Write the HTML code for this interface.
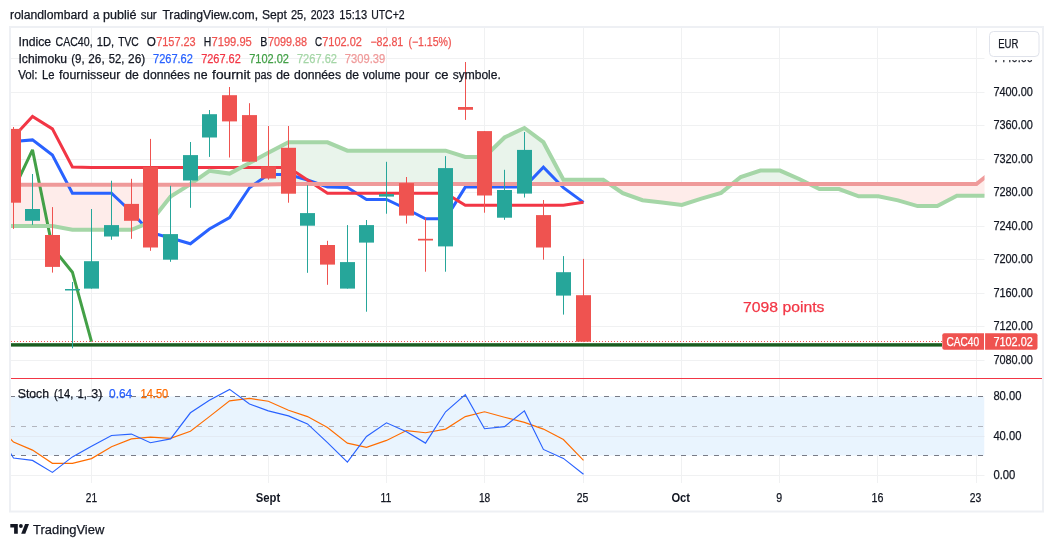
<!DOCTYPE html><html><head><meta charset="utf-8"><style>html,body{margin:0;padding:0;background:#fff;}body{width:1053px;height:547px;overflow:hidden;}svg{display:block;will-change:transform;}text{font-family:"Liberation Sans", sans-serif;stroke-width:0.25px;}</style></head><body>
<svg width="1053" height="547" viewBox="0 0 1053 547">
<defs><clipPath id="cm"><rect x="10" y="28" width="974.5" height="350"/></clipPath>
<clipPath id="cs"><rect x="10" y="379" width="974.5" height="104"/></clipPath>
<clipPath id="cab"><polygon points="0.0,0.0 0.0,184.8 250.0,184.8 290.0,184.1 976.4,184.1 996.0,168.4 1100.0,168.4 1100.0,0.0"/></clipPath>
<clipPath id="cbe"><polygon points="0.0,600.0 0.0,184.8 250.0,184.8 290.0,184.1 976.4,184.1 996.0,168.4 1100.0,168.4 1100.0,600.0"/></clipPath>
</defs>
<text x="10.1" y="18.6" font-size="12" fill="#131722" stroke="#131722" textLength="78.0" lengthAdjust="spacingAndGlyphs">rolandlombard</text>
<text x="93.0" y="18.6" font-size="12" fill="#131722" stroke="#131722" textLength="6.4" lengthAdjust="spacingAndGlyphs">a</text>
<text x="103.1" y="18.6" font-size="12" fill="#131722" stroke="#131722" textLength="33.5" lengthAdjust="spacingAndGlyphs">publié</text>
<text x="140.7" y="18.6" font-size="12" fill="#131722" stroke="#131722" textLength="16.0" lengthAdjust="spacingAndGlyphs">sur</text>
<text x="162.4" y="18.6" font-size="12" fill="#131722" stroke="#131722" textLength="95.7" lengthAdjust="spacingAndGlyphs">TradingView.com,</text>
<text x="261.9" y="18.6" font-size="12" fill="#131722" stroke="#131722" textLength="24.9" lengthAdjust="spacingAndGlyphs">Sept</text>
<text x="290.9" y="18.6" font-size="12" fill="#131722" stroke="#131722" textLength="15.4" lengthAdjust="spacingAndGlyphs">25,</text>
<text x="310.7" y="18.6" font-size="12" fill="#131722" stroke="#131722" textLength="23.6" lengthAdjust="spacingAndGlyphs">2023</text>
<text x="339.3" y="18.6" font-size="12" fill="#131722" stroke="#131722" textLength="27.8" lengthAdjust="spacingAndGlyphs">15:13</text>
<text x="371.2" y="18.6" font-size="12" fill="#131722" stroke="#131722" textLength="33.4" lengthAdjust="spacingAndGlyphs">UTC+2</text>
<g stroke="#F0F1F2" stroke-width="1">
<line x1="11" x2="984.5" y1="58.5" y2="58.5"/>
<line x1="11" x2="984.5" y1="92.5" y2="92.5"/>
<line x1="11" x2="984.5" y1="125.5" y2="125.5"/>
<line x1="11" x2="984.5" y1="159.5" y2="159.5"/>
<line x1="11" x2="984.5" y1="192.5" y2="192.5"/>
<line x1="11" x2="984.5" y1="226.5" y2="226.5"/>
<line x1="11" x2="984.5" y1="259.5" y2="259.5"/>
<line x1="11" x2="984.5" y1="293.5" y2="293.5"/>
<line x1="11" x2="984.5" y1="326.5" y2="326.5"/>
<line x1="11" x2="984.5" y1="360.5" y2="360.5"/>
<line x1="91.5" x2="91.5" y1="28" y2="483"/>
<line x1="268.5" x2="268.5" y1="28" y2="483"/>
<line x1="386.5" x2="386.5" y1="28" y2="483"/>
<line x1="484.5" x2="484.5" y1="28" y2="483"/>
<line x1="583.5" x2="583.5" y1="28" y2="483"/>
<line x1="681.5" x2="681.5" y1="28" y2="483"/>
<line x1="779.5" x2="779.5" y1="28" y2="483"/>
<line x1="877.5" x2="877.5" y1="28" y2="483"/>
<line x1="976.5" x2="976.5" y1="28" y2="483"/>
<line x1="11" x2="984.5" y1="436.5" y2="436.5"/>
<line x1="11" x2="984.5" y1="475.5" y2="475.5"/>
</g>
<g clip-path="url(#cm)">
<polygon points="-6.0,226.0 13.5,226.0 32.5,226.0 52.4,226.0 72.4,229.8 91.5,229.8 111.5,229.8 131.4,229.8 150.4,222.0 170.6,196.6 190.4,184.2 209.4,170.8 229.6,173.6 249.5,163.0 268.3,152.8 288.5,142.3 307.5,142.3 327.5,142.3 347.4,150.7 366.5,150.7 386.5,150.7 406.5,150.7 425.5,150.7 445.6,150.7 465.3,157.0 484.5,157.0 504.5,137.5 524.4,128.0 543.4,142.2 563.4,179.8 583.5,179.8 603.2,179.8 622.8,193.1 642.5,200.2 662.1,202.6 681.8,205.0 701.4,198.7 721.1,192.9 740.7,177.0 760.4,170.6 780.0,170.6 799.7,179.2 819.4,189.0 839.0,189.0 858.7,196.3 878.3,196.3 898.0,200.4 917.6,206.1 937.3,206.1 956.9,195.8 976.6,195.8 996.3,195.8 996.3,168.4 976.6,183.9 956.9,184.1 937.3,184.1 917.6,184.1 898.0,184.1 878.3,184.1 858.7,184.1 839.0,184.1 819.4,184.1 799.7,184.1 780.0,184.1 760.4,184.1 740.7,184.1 721.1,184.1 701.4,184.1 681.8,184.1 662.1,184.1 642.5,184.1 622.8,184.1 603.2,184.1 583.5,184.1 563.4,184.1 543.4,184.1 524.4,184.1 504.5,184.1 484.5,184.1 465.3,184.1 445.6,184.1 425.5,184.1 406.5,184.1 386.5,184.1 366.5,184.1 347.4,184.1 327.5,184.1 307.5,184.1 288.5,184.1 268.3,184.5 249.5,184.8 229.6,184.8 209.4,184.8 190.4,184.8 170.6,184.8 150.4,184.8 131.4,184.8 111.5,184.8 91.5,184.8 72.4,184.8 52.4,184.8 32.5,184.8 13.5,184.8 -6.0,168.4" fill="#E9F4EB" clip-path="url(#cab)"/>
<polygon points="-6.0,226.0 13.5,226.0 32.5,226.0 52.4,226.0 72.4,229.8 91.5,229.8 111.5,229.8 131.4,229.8 150.4,222.0 170.6,196.6 190.4,184.2 209.4,170.8 229.6,173.6 249.5,163.0 268.3,152.8 288.5,142.3 307.5,142.3 327.5,142.3 347.4,150.7 366.5,150.7 386.5,150.7 406.5,150.7 425.5,150.7 445.6,150.7 465.3,157.0 484.5,157.0 504.5,137.5 524.4,128.0 543.4,142.2 563.4,179.8 583.5,179.8 603.2,179.8 622.8,193.1 642.5,200.2 662.1,202.6 681.8,205.0 701.4,198.7 721.1,192.9 740.7,177.0 760.4,170.6 780.0,170.6 799.7,179.2 819.4,189.0 839.0,189.0 858.7,196.3 878.3,196.3 898.0,200.4 917.6,206.1 937.3,206.1 956.9,195.8 976.6,195.8 996.3,195.8 996.3,168.4 976.6,183.9 956.9,184.1 937.3,184.1 917.6,184.1 898.0,184.1 878.3,184.1 858.7,184.1 839.0,184.1 819.4,184.1 799.7,184.1 780.0,184.1 760.4,184.1 740.7,184.1 721.1,184.1 701.4,184.1 681.8,184.1 662.1,184.1 642.5,184.1 622.8,184.1 603.2,184.1 583.5,184.1 563.4,184.1 543.4,184.1 524.4,184.1 504.5,184.1 484.5,184.1 465.3,184.1 445.6,184.1 425.5,184.1 406.5,184.1 386.5,184.1 366.5,184.1 347.4,184.1 327.5,184.1 307.5,184.1 288.5,184.1 268.3,184.5 249.5,184.8 229.6,184.8 209.4,184.8 190.4,184.8 170.6,184.8 150.4,184.8 131.4,184.8 111.5,184.8 91.5,184.8 72.4,184.8 52.4,184.8 32.5,184.8 13.5,184.8 -6.0,168.4" fill="#FEECEA" clip-path="url(#cbe)"/>
<polyline points="5.0,141.7 13.5,141.5 32.5,139.9 52.4,155.0 72.4,193.2 91.5,193.2 111.5,193.2 131.4,212.0 150.4,232.5 170.6,238.0 190.4,243.8 209.4,229.0 229.6,217.5 249.5,187.7 268.3,174.5 288.5,174.5 307.5,180.0 327.5,187.0 347.4,187.5 366.5,199.4 386.5,199.4 406.5,209.0 425.5,218.8 445.6,218.8 465.3,187.1 484.5,187.1 504.5,187.1 524.4,187.1 543.4,167.2 563.4,187.7 583.5,202.4" fill="none" stroke="#2962FF" stroke-width="3" stroke-linejoin="miter" stroke-miterlimit="3"/>
<polyline points="5.0,146.0 13.5,137.0 32.5,116.5 52.4,128.9 72.4,167.0 91.5,167.4 111.5,167.4 131.4,167.4 150.4,167.4 170.6,167.4 190.4,167.4 209.4,167.4 229.6,167.4 249.5,167.4 268.3,167.4 288.5,167.4 307.5,180.0 327.5,193.3 347.4,193.3 366.5,193.3 386.5,193.3 406.5,193.3 425.5,193.3 445.6,193.3 465.3,205.3 484.5,205.3 504.5,205.3 524.4,205.3 543.4,205.3 563.4,205.3 583.5,202.3" fill="none" stroke="#F23645" stroke-width="3" stroke-linejoin="miter" stroke-miterlimit="3"/>
<polyline points="-6.0,195.5 13.5,190.0 32.5,149.9 52.4,247.5 72.4,272.2 91.5,341.7" fill="none" stroke="#43A047" stroke-width="3" stroke-linejoin="miter" stroke-miterlimit="3"/>
<polyline points="-6.0,226.0 13.5,226.0 32.5,226.0 52.4,226.0 72.4,229.8 91.5,229.8 111.5,229.8 131.4,229.8 150.4,222.0 170.6,196.6 190.4,184.2 209.4,170.8 229.6,173.6 249.5,163.0 268.3,152.8 288.5,142.3 307.5,142.3 327.5,142.3 347.4,150.7 366.5,150.7 386.5,150.7 406.5,150.7 425.5,150.7 445.6,150.7 465.3,157.0 484.5,157.0 504.5,137.5 524.4,128.0 543.4,142.2 563.4,179.8 583.5,179.8 603.2,179.8 622.8,193.1 642.5,200.2 662.1,202.6 681.8,205.0 701.4,198.7 721.1,192.9 740.7,177.0 760.4,170.6 780.0,170.6 799.7,179.2 819.4,189.0 839.0,189.0 858.7,196.3 878.3,196.3 898.0,200.4 917.6,206.1 937.3,206.1 956.9,195.8 976.6,195.8 996.3,195.8" fill="none" stroke="#A5D6A7" stroke-width="4" stroke-linejoin="miter" stroke-miterlimit="3"/>
<polyline points="0.0,184.8 250.0,184.8 290.0,184.1 976.4,184.1 996.0,168.4" fill="none" stroke="#EF9A9A" stroke-width="4"/>
<line x1="11" x2="942" y1="341.5" y2="341.5" stroke="#EF5350" stroke-width="1" stroke-dasharray="1 2"/>
<rect x="11" y="343.2" width="931" height="3.4" fill="#1B5E20"/>
<rect x="13" y="127.0" width="1" height="101.9" fill="#EF5350"/>
<rect x="6" y="128.9" width="15" height="73.8" fill="#EF5350"/>
<rect x="32" y="174.0" width="1" height="50.8" fill="#26A69A"/>
<rect x="25" y="209.0" width="15" height="11.8" fill="#26A69A"/>
<rect x="52" y="207.1" width="1" height="65.5" fill="#EF5350"/>
<rect x="45" y="235.0" width="15" height="31.9" fill="#EF5350"/>
<rect x="72" y="282.0" width="1" height="66.3" fill="#26A69A"/>
<rect x="65" y="289.0" width="15" height="1.5" fill="#26A69A"/>
<rect x="91" y="209.0" width="1" height="79.6" fill="#26A69A"/>
<rect x="84" y="261.2" width="15" height="27.4" fill="#26A69A"/>
<rect x="111" y="180.7" width="1" height="59.1" fill="#26A69A"/>
<rect x="104" y="225.1" width="15" height="11.4" fill="#26A69A"/>
<rect x="131" y="178.8" width="1" height="60.0" fill="#EF5350"/>
<rect x="124" y="203.9" width="15" height="16.9" fill="#EF5350"/>
<rect x="150" y="138.9" width="1" height="111.9" fill="#EF5350"/>
<rect x="143" y="166.9" width="15" height="80.6" fill="#EF5350"/>
<rect x="170" y="185.8" width="1" height="76.0" fill="#26A69A"/>
<rect x="163" y="234.1" width="15" height="25.6" fill="#26A69A"/>
<rect x="190" y="142.0" width="1" height="65.8" fill="#26A69A"/>
<rect x="183" y="155.1" width="15" height="25.4" fill="#26A69A"/>
<rect x="209" y="110.0" width="1" height="46.9" fill="#26A69A"/>
<rect x="202" y="114.2" width="15" height="23.3" fill="#26A69A"/>
<rect x="229" y="87.0" width="1" height="70.5" fill="#EF5350"/>
<rect x="222" y="95.2" width="15" height="26.2" fill="#EF5350"/>
<rect x="249" y="103.2" width="1" height="58.5" fill="#EF5350"/>
<rect x="242" y="115.1" width="15" height="46.6" fill="#EF5350"/>
<rect x="268" y="126.0" width="1" height="53.7" fill="#EF5350"/>
<rect x="261" y="166.4" width="15" height="12.1" fill="#EF5350"/>
<rect x="288" y="126.0" width="1" height="76.7" fill="#EF5350"/>
<rect x="281" y="147.8" width="15" height="45.9" fill="#EF5350"/>
<rect x="307" y="185.2" width="1" height="87.6" fill="#26A69A"/>
<rect x="300" y="213.1" width="15" height="12.6" fill="#26A69A"/>
<rect x="327" y="240.8" width="1" height="44.0" fill="#EF5350"/>
<rect x="320" y="245.0" width="15" height="19.6" fill="#EF5350"/>
<rect x="347" y="225.1" width="1" height="63.5" fill="#26A69A"/>
<rect x="340" y="262.1" width="15" height="26.5" fill="#26A69A"/>
<rect x="366" y="220.0" width="1" height="91.7" fill="#26A69A"/>
<rect x="359" y="225.1" width="15" height="17.5" fill="#26A69A"/>
<rect x="386" y="161.8" width="1" height="51.9" fill="#26A69A"/>
<rect x="379" y="194.1" width="15" height="2.5" fill="#26A69A"/>
<rect x="406" y="177.0" width="1" height="46.6" fill="#EF5350"/>
<rect x="399" y="183.1" width="15" height="32.5" fill="#EF5350"/>
<rect x="425" y="217.5" width="1" height="54.2" fill="#EF5350"/>
<rect x="418" y="238.8" width="15" height="1.7" fill="#EF5350"/>
<rect x="445" y="156.1" width="1" height="115.6" fill="#26A69A"/>
<rect x="438" y="168.1" width="15" height="78.3" fill="#26A69A"/>
<rect x="465" y="62.0" width="1" height="57.9" fill="#EF5350"/>
<rect x="458" y="107.0" width="15" height="2.8" fill="#EF5350"/>
<rect x="484" y="131.1" width="1" height="81.6" fill="#EF5350"/>
<rect x="477" y="131.1" width="15" height="64.4" fill="#EF5350"/>
<rect x="504" y="169.8" width="1" height="50.0" fill="#26A69A"/>
<rect x="497" y="190.0" width="15" height="27.7" fill="#26A69A"/>
<rect x="524" y="132.0" width="1" height="65.5" fill="#26A69A"/>
<rect x="517" y="149.9" width="15" height="43.7" fill="#26A69A"/>
<rect x="543" y="200.0" width="1" height="59.7" fill="#EF5350"/>
<rect x="536" y="215.1" width="15" height="32.4" fill="#EF5350"/>
<rect x="563" y="256.1" width="1" height="58.5" fill="#26A69A"/>
<rect x="556" y="272.2" width="15" height="23.4" fill="#26A69A"/>
<rect x="583" y="258.9" width="1" height="82.8" fill="#EF5350"/>
<rect x="576" y="295.2" width="15" height="46.5" fill="#EF5350"/>
</g>
<text x="743.1" y="311.9" font-size="15" fill="#F23645" stroke="#F23645" textLength="81.4" lengthAdjust="spacingAndGlyphs">7098 points</text>
<text x="18.5" y="45.9" font-size="12" fill="#131722" stroke="#131722" textLength="32.5" lengthAdjust="spacingAndGlyphs">Indice</text>
<text x="55.5" y="45.9" font-size="12" fill="#131722" stroke="#131722" textLength="37.1" lengthAdjust="spacingAndGlyphs">CAC40,</text>
<text x="96.7" y="45.9" font-size="12" fill="#131722" stroke="#131722" textLength="17.4" lengthAdjust="spacingAndGlyphs">1D,</text>
<text x="118.2" y="45.9" font-size="12" fill="#131722" stroke="#131722" textLength="20.6" lengthAdjust="spacingAndGlyphs">TVC</text>
<text x="146.7" y="45.9" font-size="12" fill="#131722" stroke="#131722" textLength="9.1" lengthAdjust="spacingAndGlyphs">O</text>
<text x="203.8" y="45.9" font-size="12" fill="#131722" stroke="#131722" textLength="7.5" lengthAdjust="spacingAndGlyphs">H</text>
<text x="260.2" y="45.9" font-size="12" fill="#131722" stroke="#131722" textLength="7.1" lengthAdjust="spacingAndGlyphs">B</text>
<text x="314.9" y="45.9" font-size="12" fill="#131722" stroke="#131722" textLength="7.1" lengthAdjust="spacingAndGlyphs">C</text>
<text x="156.2" y="45.9" font-size="12" fill="#EF5350" stroke="#EF5350" textLength="39.5" lengthAdjust="spacingAndGlyphs">7157.23</text>
<text x="211.5" y="45.9" font-size="12" fill="#EF5350" stroke="#EF5350" textLength="40.3" lengthAdjust="spacingAndGlyphs">7199.95</text>
<text x="267.9" y="45.9" font-size="12" fill="#EF5350" stroke="#EF5350" textLength="39.1" lengthAdjust="spacingAndGlyphs">7099.88</text>
<text x="322.2" y="45.9" font-size="12" fill="#EF5350" stroke="#EF5350" textLength="39.7" lengthAdjust="spacingAndGlyphs">7102.02</text>
<text x="370.4" y="45.9" font-size="12" fill="#EF5350" stroke="#EF5350" textLength="32.9" lengthAdjust="spacingAndGlyphs">−82.81</text>
<text x="408.4" y="45.9" font-size="12" fill="#EF5350" stroke="#EF5350" textLength="43.1" lengthAdjust="spacingAndGlyphs">(−1.15%)</text>
<text x="18.5" y="62.8" font-size="12" fill="#131722" stroke="#131722" textLength="48.5" lengthAdjust="spacingAndGlyphs">Ichimoku</text>
<text x="71.3" y="62.8" font-size="12" fill="#131722" stroke="#131722" textLength="13.3" lengthAdjust="spacingAndGlyphs">(9,</text>
<text x="88.3" y="62.8" font-size="12" fill="#131722" stroke="#131722" textLength="16.4" lengthAdjust="spacingAndGlyphs">26,</text>
<text x="108.8" y="62.8" font-size="12" fill="#131722" stroke="#131722" textLength="15.6" lengthAdjust="spacingAndGlyphs">52,</text>
<text x="128.1" y="62.8" font-size="12" fill="#131722" stroke="#131722" textLength="17.2" lengthAdjust="spacingAndGlyphs">26)</text>
<text x="153.0" y="62.8" font-size="12" fill="#2962FF" stroke="#2962FF" textLength="39.9" lengthAdjust="spacingAndGlyphs">7267.62</text>
<text x="201.2" y="62.8" font-size="12" fill="#F23645" stroke="#F23645" textLength="39.6" lengthAdjust="spacingAndGlyphs">7267.62</text>
<text x="249.2" y="62.8" font-size="12" fill="#43A047" stroke="#43A047" textLength="39.8" lengthAdjust="spacingAndGlyphs">7102.02</text>
<text x="296.9" y="62.8" font-size="12" fill="#A5D6A7" stroke="#A5D6A7" textLength="40.1" lengthAdjust="spacingAndGlyphs">7267.62</text>
<text x="344.8" y="62.8" font-size="12" fill="#EF9A9A" stroke="#EF9A9A" textLength="40.4" lengthAdjust="spacingAndGlyphs">7309.39</text>
<text x="18.2" y="79.1" font-size="12" fill="#131722" stroke="#131722" textLength="19.3" lengthAdjust="spacingAndGlyphs">Vol:</text>
<text x="42.1" y="79.1" font-size="12" fill="#131722" stroke="#131722" textLength="12.5" lengthAdjust="spacingAndGlyphs">Le</text>
<text x="59.1" y="79.1" font-size="12" fill="#131722" stroke="#131722" textLength="61.2" lengthAdjust="spacingAndGlyphs">fournisseur</text>
<text x="125.2" y="79.1" font-size="12" fill="#131722" stroke="#131722" textLength="13.6" lengthAdjust="spacingAndGlyphs">de</text>
<text x="143.1" y="79.1" font-size="12" fill="#131722" stroke="#131722" textLength="46.8" lengthAdjust="spacingAndGlyphs">données</text>
<text x="193.8" y="79.1" font-size="12" fill="#131722" stroke="#131722" textLength="13.7" lengthAdjust="spacingAndGlyphs">ne</text>
<text x="212.1" y="79.1" font-size="12" fill="#131722" stroke="#131722" textLength="38.2" lengthAdjust="spacingAndGlyphs">fournit</text>
<text x="254.4" y="79.1" font-size="12" fill="#131722" stroke="#131722" textLength="17.5" lengthAdjust="spacingAndGlyphs">pas</text>
<text x="276.2" y="79.1" font-size="12" fill="#131722" stroke="#131722" textLength="13.6" lengthAdjust="spacingAndGlyphs">de</text>
<text x="294.1" y="79.1" font-size="12" fill="#131722" stroke="#131722" textLength="46.9" lengthAdjust="spacingAndGlyphs">données</text>
<text x="345.4" y="79.1" font-size="12" fill="#131722" stroke="#131722" textLength="13.5" lengthAdjust="spacingAndGlyphs">de</text>
<text x="362.7" y="79.1" font-size="12" fill="#131722" stroke="#131722" textLength="37.8" lengthAdjust="spacingAndGlyphs">volume</text>
<text x="405.1" y="79.1" font-size="12" fill="#131722" stroke="#131722" textLength="24.1" lengthAdjust="spacingAndGlyphs">pour</text>
<text x="434.7" y="79.1" font-size="12" fill="#131722" stroke="#131722" textLength="13.7" lengthAdjust="spacingAndGlyphs">ce</text>
<text x="452.7" y="79.1" font-size="12" fill="#131722" stroke="#131722" textLength="48.1" lengthAdjust="spacingAndGlyphs">symbole.</text>
<rect x="11" y="378" width="1031" height="1" fill="#F23645"/>
<g clip-path="url(#cs)">
<rect x="11" y="396.4" width="973.5" height="59.1" fill="#E9F4FE"/>
<line x1="11" x2="984.5" y1="436.5" y2="436.5" stroke="#E3EAF3" stroke-width="1"/>
<line x1="10" x2="984.5" y1="396.5" y2="396.5" stroke="#787B86" stroke-width="1" stroke-dasharray="5 6"/>
<line x1="10" x2="984.5" y1="426.5" y2="426.5" stroke="#B2B5BE" stroke-width="1" stroke-dasharray="5 6"/>
<line x1="10" x2="984.5" y1="455.5" y2="455.5" stroke="#787B86" stroke-width="1" stroke-dasharray="5 6"/>
<polyline points="-6.0,421.0 13.5,442.1 32.5,450.1 52.4,463.3 72.4,463.3 91.5,458.6 111.5,446.7 131.4,438.9 150.4,437.2 170.6,438.4 190.4,431.2 209.4,416.6 229.6,400.9 249.5,398.4 268.3,401.3 288.5,410.3 307.5,416.6 327.5,427.6 347.4,443.1 366.5,447.3 386.5,440.4 406.5,430.6 425.5,432.7 445.6,429.1 465.3,416.6 484.5,411.8 504.5,417.2 524.4,422.4 543.4,429.1 563.4,439.5 583.5,460.4" fill="none" stroke="#FF6D00" stroke-width="1.15" stroke-linejoin="miter" stroke-miterlimit="3"/>
<polyline points="-6.0,426.0 13.5,458.0 32.5,460.4 52.4,472.4 72.4,456.9 91.5,446.2 111.5,435.5 131.4,434.1 150.4,442.7 170.6,438.9 190.4,412.8 209.4,400.3 229.6,389.4 249.5,404.0 268.3,410.9 288.5,415.9 307.5,423.9 327.5,442.7 347.4,462.1 366.5,436.4 386.5,422.8 406.5,431.8 425.5,443.1 445.6,411.8 465.3,394.6 484.5,428.7 504.5,426.6 524.4,410.9 543.4,449.4 563.4,458.4 583.5,474.3" fill="none" stroke="#2962FF" stroke-width="1.15" stroke-linejoin="miter" stroke-miterlimit="3"/>
</g>
<text x="17.8" y="397.6" font-size="12" fill="#131722" stroke="#131722" textLength="31.2" lengthAdjust="spacingAndGlyphs">Stoch</text>
<text x="54.1" y="397.6" font-size="12" fill="#131722" stroke="#131722" textLength="19.2" lengthAdjust="spacingAndGlyphs">(14,</text>
<text x="77.5" y="397.6" font-size="12" fill="#131722" stroke="#131722" textLength="9.5" lengthAdjust="spacingAndGlyphs">1,</text>
<text x="91.2" y="397.6" font-size="12" fill="#131722" stroke="#131722" textLength="11.1" lengthAdjust="spacingAndGlyphs">3)</text>
<text x="109.0" y="397.6" font-size="12" fill="#2962FF" stroke="#2962FF" textLength="23.2" lengthAdjust="spacingAndGlyphs">0.64</text>
<text x="140.5" y="397.6" font-size="12" fill="#FF6D00" stroke="#FF6D00" textLength="27.7" lengthAdjust="spacingAndGlyphs">14.50</text>
<text x="993.4" y="62.3" font-size="12" fill="#131722" stroke="#131722" textLength="39.5" lengthAdjust="spacingAndGlyphs">7440.00</text>
<text x="993.4" y="95.8" font-size="12" fill="#131722" stroke="#131722" textLength="39.5" lengthAdjust="spacingAndGlyphs">7400.00</text>
<text x="993.4" y="129.3" font-size="12" fill="#131722" stroke="#131722" textLength="39.5" lengthAdjust="spacingAndGlyphs">7360.00</text>
<text x="993.4" y="162.8" font-size="12" fill="#131722" stroke="#131722" textLength="39.5" lengthAdjust="spacingAndGlyphs">7320.00</text>
<text x="993.4" y="196.3" font-size="12" fill="#131722" stroke="#131722" textLength="39.5" lengthAdjust="spacingAndGlyphs">7280.00</text>
<text x="993.4" y="229.8" font-size="12" fill="#131722" stroke="#131722" textLength="39.5" lengthAdjust="spacingAndGlyphs">7240.00</text>
<text x="993.4" y="263.2" font-size="12" fill="#131722" stroke="#131722" textLength="39.5" lengthAdjust="spacingAndGlyphs">7200.00</text>
<text x="993.4" y="296.7" font-size="12" fill="#131722" stroke="#131722" textLength="39.5" lengthAdjust="spacingAndGlyphs">7160.00</text>
<text x="993.4" y="330.2" font-size="12" fill="#131722" stroke="#131722" textLength="39.5" lengthAdjust="spacingAndGlyphs">7120.00</text>
<text x="993.4" y="363.7" font-size="12" fill="#131722" stroke="#131722" textLength="39.5" lengthAdjust="spacingAndGlyphs">7080.00</text>
<text x="993.4" y="400.1" font-size="12" fill="#131722" stroke="#131722" textLength="28.0" lengthAdjust="spacingAndGlyphs">80.00</text>
<text x="993.4" y="439.7" font-size="12" fill="#131722" stroke="#131722" textLength="28.0" lengthAdjust="spacingAndGlyphs">40.00</text>
<text x="993.4" y="479.4" font-size="12" fill="#131722" stroke="#131722" textLength="22.0" lengthAdjust="spacingAndGlyphs">0.00</text>
<rect x="986" y="29" width="55" height="31" fill="#fff"/>
<rect x="989.5" y="31.5" width="49.5" height="25" rx="4" fill="#fff" stroke="#E0E3EB" stroke-width="1"/>
<text x="998.2" y="48" font-size="12" fill="#131722" stroke="#131722" textLength="20.2" lengthAdjust="spacingAndGlyphs">EUR</text>
<path d="M944.3,333.2 H984 V349.8 H944.3 Q942.3,349.8 942.3,347.8 V335.2 Q942.3,333.2 944.3,333.2 Z" fill="#EF5350"/>
<path d="M985.1,333.2 H1035.5 Q1037.5,333.2 1037.5,335.2 V347.8 Q1037.5,349.8 1035.5,349.8 H985.1 Z" fill="#EF5350"/>
<text x="946.4" y="345.8" font-size="12" fill="#fff" stroke="#fff" textLength="32.7" lengthAdjust="spacingAndGlyphs">CAC40</text>
<text x="993.4" y="345.8" font-size="12" fill="#fff" stroke="#fff" textLength="39.4" lengthAdjust="spacingAndGlyphs">7102.02</text>
<text x="85.8" y="501.9" font-size="12" fill="#131722" stroke="#131722"  textLength="11.3" lengthAdjust="spacingAndGlyphs">21</text>
<text x="255.8" y="501.9" font-size="12" fill="#131722" stroke="#131722" font-weight="bold" style="stroke-width:0" textLength="24.5" lengthAdjust="spacingAndGlyphs">Sept</text>
<text x="380.6" y="501.9" font-size="12" fill="#131722" stroke="#131722"  textLength="10.8" lengthAdjust="spacingAndGlyphs">11</text>
<text x="478.9" y="501.9" font-size="12" fill="#131722" stroke="#131722"  textLength="11.3" lengthAdjust="spacingAndGlyphs">18</text>
<text x="576.8" y="501.9" font-size="12" fill="#131722" stroke="#131722"  textLength="11.6" lengthAdjust="spacingAndGlyphs">25</text>
<text x="671.4" y="501.9" font-size="12" fill="#131722" stroke="#131722" font-weight="bold" style="stroke-width:0" textLength="18.7" lengthAdjust="spacingAndGlyphs">Oct</text>
<text x="776.2" y="501.9" font-size="12" fill="#131722" stroke="#131722"  textLength="5.9" lengthAdjust="spacingAndGlyphs">9</text>
<text x="871.6" y="501.9" font-size="12" fill="#131722" stroke="#131722"  textLength="11.9" lengthAdjust="spacingAndGlyphs">16</text>
<text x="969.8" y="501.9" font-size="12" fill="#131722" stroke="#131722"  textLength="11.5" lengthAdjust="spacingAndGlyphs">23</text>
<rect x="10" y="27" width="1033" height="484.5" fill="none" stroke="#EEF0F4" stroke-width="2"/>
<g fill="#131722"><path d="M10.3,524.1 H17.8 V533.7 H14.1 V527.6 H10.3 Z"/><circle cx="20.9" cy="526" r="1.9"/><path d="M25.1,524.1 H29 L25.3,533.7 H21.2 Z"/></g>
<text x="33" y="533.9" font-size="13" fill="#131722" stroke="#131722" textLength="71.3" lengthAdjust="spacingAndGlyphs">TradingView</text>
</svg></body></html>
